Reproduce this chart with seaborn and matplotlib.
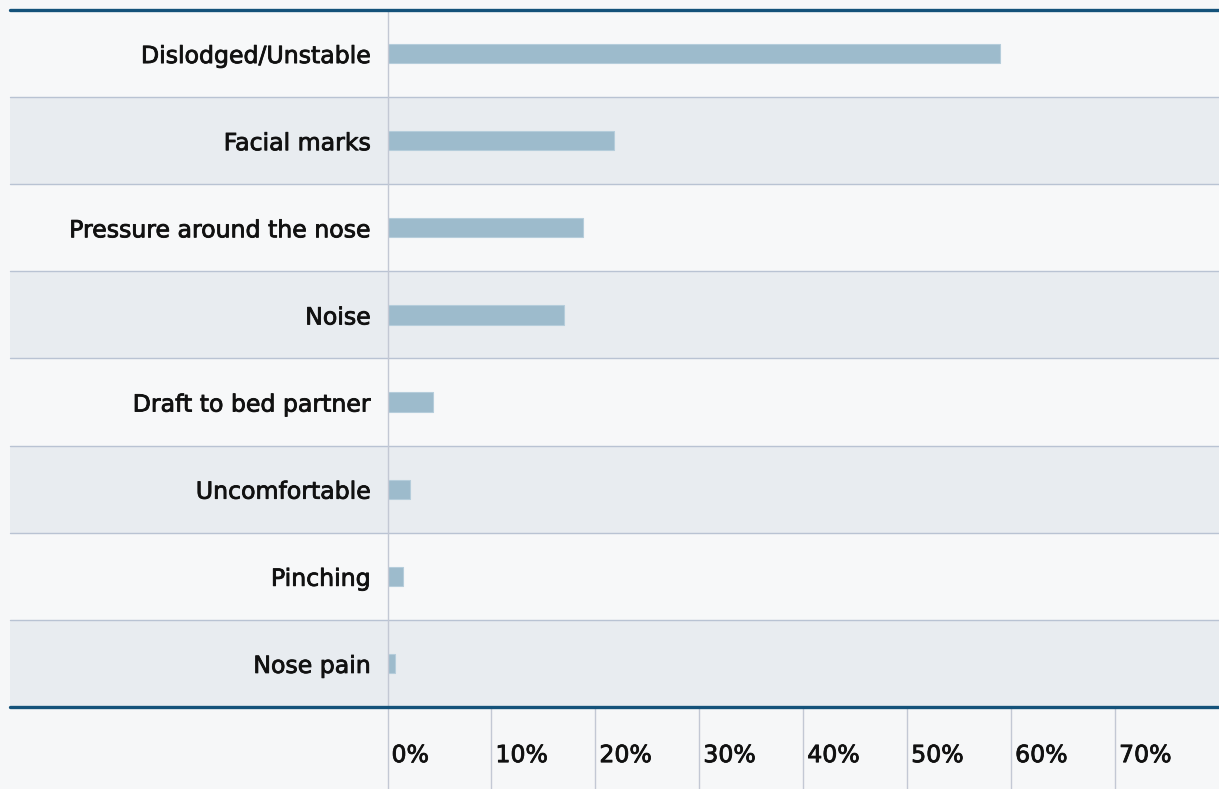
import matplotlib
matplotlib.use("Agg")
import matplotlib.pyplot as plt
import matplotlib.transforms as mtransforms
import matplotlib.patheffects as pe
from matplotlib.patches import Rectangle
import seaborn as sns
import pandas as pd

categories = ["Dislodged/Unstable", "Facial marks", "Pressure around the nose", "Noise",
              "Draft to bed partner", "Uncomfortable", "Pinching", "Nose pain"]
values = [58.9, 21.8, 18.8, 17.0, 4.4, 2.2, 1.5, 0.7]
xticks = [0, 10, 20, 30, 40, 50, 60, 70]
xtick_labels = ["0%", "10%", "20%", "30%", "40%", "50%", "60%", "70%"]

df = pd.DataFrame({"issue": categories, "pct": values})

sns.set_theme(style="white")
plt.rcParams["font.family"] = ["DejaVu Sans"]

W, H = 1219, 789
fig = plt.figure(figsize=(W / 100, H / 100), dpi=100)
fig.patch.set_facecolor("#f6f7f8")

left_px, right_px, top_px, bot_px = 387.5, 1219, 10, 707
ax = fig.add_axes([left_px / W, (H - bot_px) / H, (right_px - left_px) / W, (bot_px - top_px) / H])
ax.set_facecolor("none")

sns.barplot(data=df, x="pct", y="issue", orient="h", color="#9dbbcc", width=0.22,
            edgecolor="#b5cddb", linewidth=0.8, saturation=1, ax=ax, zorder=3)

ax.set_xlim(0, 80)
ax.set_ylim(len(categories) - 0.5, -0.5)
for s in ax.spines.values():
    s.set_visible(False)
ax.set_xlabel("")
ax.set_ylabel("")

# Row bands across from x=10px to right edge
trans = mtransforms.blended_transform_factory(fig.transFigure, ax.transData)
x0 = 10 / W
for i in range(len(categories)):
    fc = "#f7f8f9" if i % 2 == 0 else "#e8ecf0"
    r = Rectangle((x0, i - 0.5), 1 - x0, 1, transform=trans, facecolor=fc,
                  edgecolor="none", zorder=0, clip_on=False)
    ax.add_patch(r)
for i in range(1, len(categories)):
    ax.plot([x0, 1], [i - 0.5, i - 0.5], transform=trans, color="#b9c3d3", lw=1.0,
            zorder=1, clip_on=False)
for yv in [-0.5, len(categories) - 0.5]:
    ax.plot([x0, 1], [yv, yv], transform=trans, color="#14527a", lw=2.4,
            zorder=5, clip_on=False)

# vertical gridlines
ext = (H - bot_px) / (bot_px - top_px)
ax.axvline(0, ymin=-ext, ymax=1, color="#c3c8d4", lw=1.0, zorder=4, clip_on=False)
for t in xticks[1:]:
    ax.axvline(t, ymin=-ext, ymax=0, color="#c3c8d4", lw=1.0, zorder=4, clip_on=False)

stroke = [pe.withStroke(linewidth=0.6, foreground="#111111")]

ax.set_xticks(xticks)
ax.set_xticklabels(xtick_labels)
ax.tick_params(axis="x", length=0, pad=26, labelsize=17, labelcolor="#111111")
offset = mtransforms.ScaledTranslation(4 / 100, 0, fig.dpi_scale_trans)
for lab in ax.get_xticklabels():
    lab.set_horizontalalignment("left")
    lab.set_transform(lab.get_transform() + offset)
    lab.set_path_effects(stroke)

ax.tick_params(axis="y", length=0, pad=12, labelsize=17, labelcolor="#111111")
for lab in ax.get_yticklabels():
    lab.set_path_effects(stroke)

fig.savefig("out.png", dpi=100, facecolor=fig.get_facecolor())
